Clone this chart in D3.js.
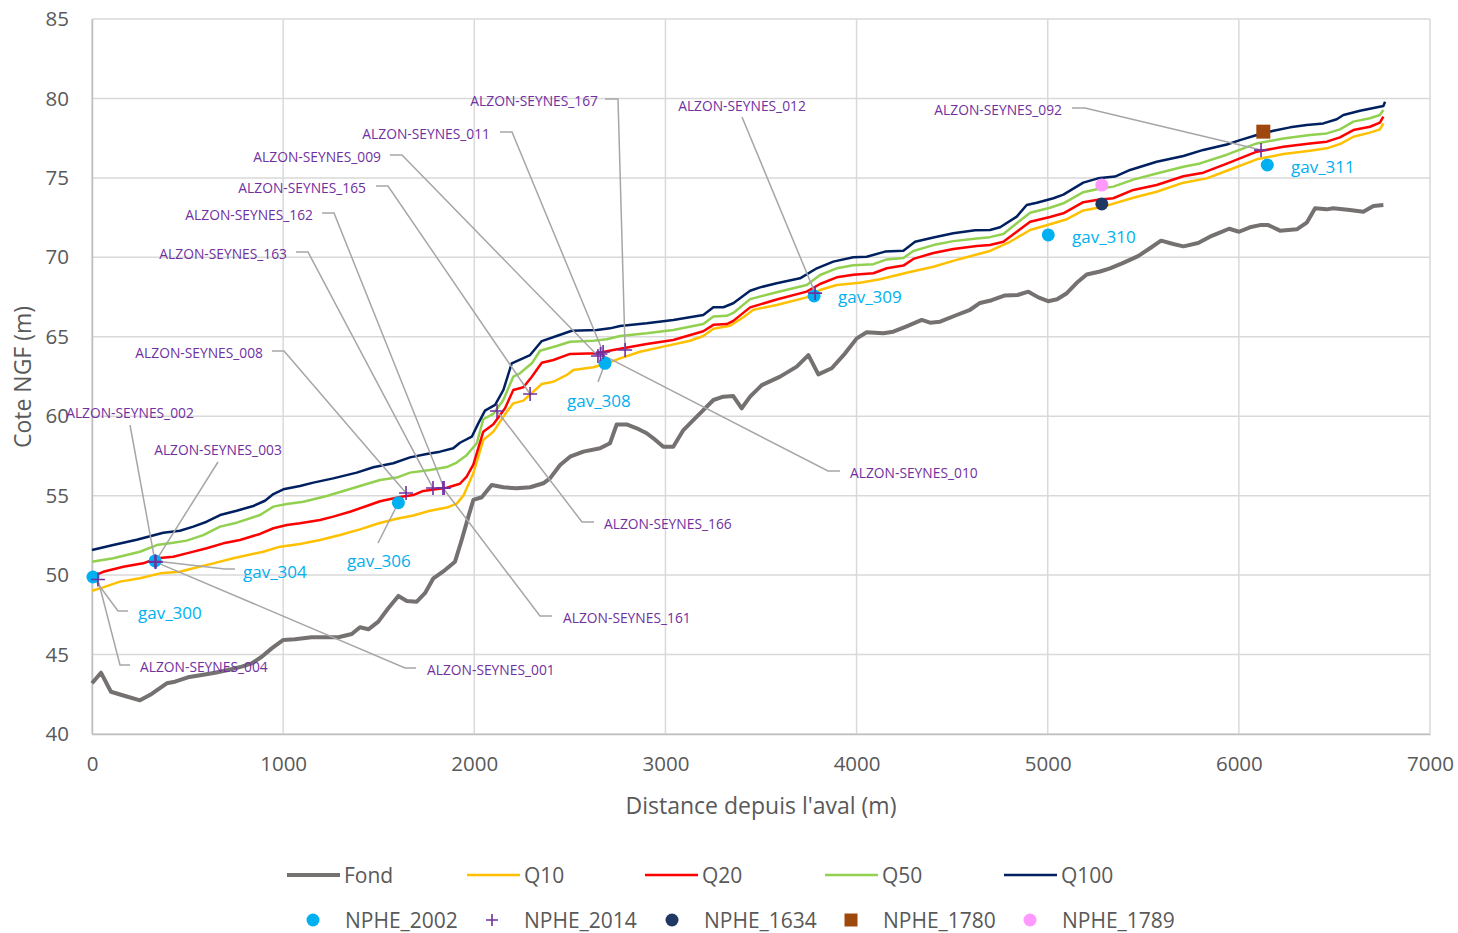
<!DOCTYPE html>
<html>
<head>
<meta charset="utf-8">
<script src="https://cdn.jsdelivr.net/npm/d3@7"></script>
<style>
  html, body { margin: 0; padding: 0; background: #fff; }
  svg { display: block; }
  text { font-family: "Open Sans", "Noto Sans", sans-serif; }
</style>
</head>
<body>
<svg id="chart" width="1458" height="933"></svg>
<script>
// Longitudinal profile: distance from downstream (m) vs. elevation NGF (m)
const fondProfile = [[0,43.19],[47,43.86],[99,42.66],[173,42.39],[251,42.12],[312,42.52],[391,43.19],[434,43.29],[502,43.57],[574,43.71],[644,43.86],[712,44.03],[783,44.24],[836,44.45],[888,44.86],[940,45.39],[1001,45.92],[1062,45.96],[1149,46.09],[1289,46.09],[1359,46.29],[1402,46.72],[1446,46.59],[1498,47.07],[1550,47.91],[1603,48.69],[1647,48.37],[1699,48.33],[1742,48.86],[1786,49.80],[1847,50.32],[1899,50.84],[1934,52.21],[1969,53.68],[1995,54.73],[2039,54.90],[2091,55.67],[2152,55.53],[2222,55.46],[2292,55.53],[2361,55.78],[2396,56.09],[2449,56.93],[2501,57.45],[2571,57.77],[2658,57.98],[2710,58.30],[2745,59.48],[2797,59.48],[2850,59.24],[2902,58.93],[2937,58.61],[2989,58.08],[3041,58.08],[3094,59.13],[3164,59.97],[3251,61.02],[3303,61.23],[3355,61.27],[3399,60.50],[3443,61.23],[3504,61.96],[3600,62.49],[3687,63.12],[3748,63.85],[3800,62.63],[3870,63.02],[3940,63.96],[4001,64.90],[4053,65.28],[4140,65.22],[4192,65.32],[4262,65.66],[4341,66.06],[4384,65.89],[4437,65.95],[4524,66.37],[4594,66.70],[4646,67.13],[4707,67.30],[4777,67.60],[4842,67.63],[4899,67.84],[4951,67.48],[5002,67.24],[5049,67.36],[5100,67.74],[5152,68.40],[5204,68.92],[5274,69.11],[5326,69.31],[5389,69.62],[5473,70.08],[5535,70.57],[5593,71.05],[5657,70.84],[5710,70.69],[5787,70.90],[5849,71.30],[5884,71.47],[5949,71.80],[6001,71.61],[6058,71.89],[6111,72.03],[6154,72.03],[6215,71.68],[6303,71.76],[6355,72.18],[6399,73.09],[6460,73.02],[6494,73.09],[6581,72.98],[6651,72.87],[6704,73.23],[6756,73.29]];

const q10Profile = [[0,49.02],[59,49.23],[146,49.59],[251,49.80],[356,50.11],[460,50.21],[530,50.43],[635,50.74],[739,51.06],[896,51.47],[984,51.79],[1088,51.96],[1193,52.21],[1298,52.52],[1402,52.88],[1496,53.25],[1594,53.55],[1681,53.75],[1768,54.05],[1856,54.25],[1908,54.50],[1943,55.00],[1995,56.41],[2047,58.50],[2100,59.03],[2170,60.28],[2204,60.81],[2257,60.98],[2353,62.03],[2414,62.17],[2484,62.60],[2518,62.91],[2623,63.08],[2693,63.33],[2763,63.64],[2867,64.06],[2989,64.38],[3129,64.75],[3198,65.05],[3251,65.50],[3338,65.70],[3408,66.23],[3460,66.70],[3582,67.00],[3739,67.48],[3809,67.94],[3896,68.26],[4018,68.40],[4123,68.62],[4262,69.03],[4402,69.41],[4541,69.90],[4698,70.40],[4803,70.98],[4908,71.72],[5012,72.08],[5100,72.40],[5186,72.95],[5291,73.19],[5448,73.75],[5570,74.13],[5710,74.70],[5832,74.97],[5937,75.45],[6094,76.17],[6233,76.50],[6372,76.71],[6460,76.86],[6529,77.13],[6599,77.59],[6686,77.85],[6738,78.05],[6756,78.43]];

const q20Profile = [[0,49.90],[59,50.21],[164,50.53],[268,50.74],[339,51.06],[425,51.16],[495,51.37],[600,51.69],[687,52.00],[774,52.21],[879,52.59],[949,52.95],[1019,53.15],[1088,53.26],[1193,53.47],[1262,53.68],[1350,53.99],[1437,54.35],[1507,54.65],[1611,54.92],[1681,55.04],[1733,55.30],[1856,55.50],[1925,55.75],[1960,56.20],[1995,56.95],[2047,59.03],[2100,59.50],[2161,60.50],[2204,61.65],[2257,61.82],[2301,62.49],[2353,63.37],[2414,63.54],[2501,63.92],[2641,63.96],[2727,64.17],[2902,64.55],[3041,64.80],[3198,65.35],[3251,65.75],[3321,65.80],[3355,66.00],[3443,66.85],[3582,67.35],[3739,67.84],[3809,68.32],[3896,68.74],[3983,68.90],[4088,69.00],[4158,69.31],[4245,69.48],[4297,69.90],[4402,70.27],[4506,70.53],[4629,70.71],[4698,70.78],[4768,70.98],[4838,71.61],[4908,72.24],[5012,72.54],[5082,72.77],[5186,73.47],[5263,73.62],[5343,73.72],[5448,74.24],[5570,74.55],[5710,75.10],[5814,75.33],[5937,75.90],[6094,76.65],[6233,76.96],[6372,77.17],[6460,77.28],[6529,77.55],[6599,78.01],[6686,78.22],[6738,78.48],[6756,78.85]];

const q50Profile = [[0,50.84],[111,51.06],[251,51.47],[339,51.89],[425,52.04],[495,52.17],[582,52.52],[670,53.05],[757,53.30],[879,53.78],[949,54.31],[1019,54.48],[1106,54.62],[1228,54.98],[1333,55.36],[1419,55.67],[1507,55.99],[1594,56.14],[1664,56.45],[1768,56.62],[1856,56.80],[1908,57.08],[1960,57.55],[2013,58.30],[2047,59.81],[2100,60.15],[2152,61.02],[2204,62.49],[2239,62.70],[2301,63.33],[2344,64.12],[2431,64.42],[2501,64.69],[2623,64.75],[2693,64.84],[2763,65.05],[2902,65.22],[3041,65.43],[3198,65.80],[3251,66.27],[3321,66.32],[3355,66.50],[3443,67.37],[3582,67.80],[3739,68.26],[3809,68.89],[3896,69.31],[3983,69.50],[4088,69.57],[4158,69.87],[4245,69.96],[4297,70.40],[4402,70.77],[4506,71.02],[4629,71.19],[4698,71.27],[4768,71.47],[4838,72.14],[4908,72.81],[5012,73.12],[5082,73.40],[5186,74.10],[5263,74.30],[5343,74.45],[5448,74.89],[5570,75.28],[5710,75.70],[5797,75.91],[5937,76.46],[6094,77.17],[6233,77.48],[6372,77.70],[6460,77.80],[6529,78.05],[6599,78.54],[6686,78.75],[6738,78.96],[6756,79.27]];

const q100Profile = [[0,51.58],[111,51.89],[234,52.23],[373,52.67],[460,52.79],[530,53.05],[600,53.36],[670,53.78],[757,54.05],[844,54.35],[905,54.68],[949,55.10],[1001,55.40],[1088,55.61],[1158,55.82],[1262,56.09],[1385,56.45],[1472,56.79],[1576,57.04],[1664,57.41],[1751,57.62],[1821,57.77],[1890,57.98],[1925,58.33],[1987,58.71],[2021,59.55],[2056,60.35],[2109,60.71],[2152,61.65],[2196,63.33],[2292,63.85],[2353,64.73],[2431,65.05],[2510,65.38],[2641,65.43],[2710,65.53],[2763,65.68],[2902,65.85],[3041,66.06],[3198,66.37],[3251,66.86],[3303,66.86],[3355,67.11],[3443,67.90],[3495,68.11],[3582,68.37],[3704,68.68],[3792,69.31],[3878,69.73],[3983,70.00],[4053,70.04],[4149,70.36],[4245,70.42],[4306,70.98],[4402,71.25],[4506,71.51],[4620,71.70],[4698,71.72],[4751,71.89],[4838,72.56],[4890,73.29],[4943,73.44],[5030,73.72],[5082,73.95],[5186,74.70],[5263,74.97],[5352,75.08],[5431,75.50],[5570,76.02],[5710,76.38],[5814,76.76],[5937,77.10],[6006,77.38],[6094,77.70],[6181,77.97],[6268,78.18],[6355,78.33],[6442,78.43],[6512,78.69],[6547,78.96],[6634,79.23],[6756,79.52],[6765,79.79]];

// Surveyed flood marks (PHE)
const nphe2002 = [
  { id: "gav_300", d: 5, z: 49.88 },
  { id: "gav_304", d: 330, z: 50.89 },
  { id: "gav_306", d: 1603, z: 54.56 },
  { id: "gav_308", d: 2684, z: 63.33 },
  { id: "gav_309", d: 3778, z: 67.57 },
  { id: "gav_310", d: 5003, z: 71.41 },
  { id: "gav_311", d: 6149, z: 75.81 }
];
const nphe2014 = [
  { id: "ALZON-SEYNES_004", d: 31, z: 49.72 },
  { id: "ALZON-SEYNES_002", d: 330, z: 50.84 },
  { id: "ALZON-SEYNES_003", d: 332, z: 50.86 },
  { id: "ALZON-SEYNES_001", d: 334, z: 50.82 },
  { id: "ALZON-SEYNES_008", d: 1643, z: 55.17 },
  { id: "ALZON-SEYNES_163", d: 1784, z: 55.48 },
  { id: "ALZON-SEYNES_162", d: 1842, z: 55.48 },
  { id: "ALZON-SEYNES_161", d: 1836, z: 55.48 },
  { id: "ALZON-SEYNES_166", d: 2119, z: 60.33 },
  { id: "ALZON-SEYNES_165", d: 2292, z: 61.40 },
  { id: "ALZON-SEYNES_009", d: 2647, z: 63.79 },
  { id: "ALZON-SEYNES_010", d: 2660, z: 63.92 },
  { id: "ALZON-SEYNES_011", d: 2674, z: 64.04 },
  { id: "ALZON-SEYNES_167", d: 2789, z: 64.17 },
  { id: "ALZON-SEYNES_012", d: 3783, z: 67.75 },
  { id: "ALZON-SEYNES_092", d: 6116, z: 76.75 }
];
const nphe1634 = [{ d: 5283, z: 73.36 }];
const nphe1780 = [{ d: 6128, z: 77.91 }];
const nphe1789 = [{ d: 5283, z: 74.55 }];

// Axis ticks
const xTicks = [0, 1000, 2000, 3000, 4000, 5000, 6000, 7000];
const yTicks = [40, 45, 50, 55, 60, 65, 70, 75, 80, 85];

// Label placement (pixel layout): text anchor point, side, and leader elbow
const alzonLayout = {
  "ALZON-SEYNES_167": { x: 598, y: 100, anchor: "end",   leader: [[605, 99], [618, 99]] },
  "ALZON-SEYNES_012": { x: 742, y: 105, anchor: "middle", leader: [[742, 117]] },
  "ALZON-SEYNES_092": { x: 1062, y: 109, anchor: "end",  leader: [[1072, 108], [1085, 108]] },
  "ALZON-SEYNES_011": { x: 490, y: 133, anchor: "end",   leader: [[500, 132], [512, 132]] },
  "ALZON-SEYNES_009": { x: 381, y: 156, anchor: "end",   leader: [[390, 155], [402, 155]] },
  "ALZON-SEYNES_165": { x: 366, y: 187, anchor: "end",   leader: [[376, 186], [388, 186]] },
  "ALZON-SEYNES_162": { x: 313, y: 214, anchor: "end",   leader: [[322, 213], [334, 213]] },
  "ALZON-SEYNES_163": { x: 287, y: 253, anchor: "end",   leader: [[296, 252], [308, 252]] },
  "ALZON-SEYNES_008": { x: 263, y: 352, anchor: "end",   leader: [[272, 351], [284, 351]] },
  "ALZON-SEYNES_002": { x: 130, y: 412, anchor: "middle", leader: [[130, 425]] },
  "ALZON-SEYNES_003": { x: 218, y: 449, anchor: "middle", leader: [[218, 462]] },
  "ALZON-SEYNES_004": { x: 140, y: 666, anchor: "start", leader: [[130, 665], [120, 665]] },
  "ALZON-SEYNES_001": { x: 427, y: 669, anchor: "start", leader: [[416, 668], [405, 668]] },
  "ALZON-SEYNES_161": { x: 563, y: 617, anchor: "start", leader: [[552, 616], [540, 616]] },
  "ALZON-SEYNES_166": { x: 604, y: 523, anchor: "start", leader: [[594, 522], [582, 522]] },
  "ALZON-SEYNES_010": { x: 850, y: 472, anchor: "start", leader: [[840, 471], [828, 471]] }
};
const gavLayout = {
  "gav_300": { x: 138, y: 612, leader: [[128, 611], [118, 611]] },
  "gav_304": { x: 243, y: 571, leader: [[235, 569], [225, 569]] },
  "gav_306": { x: 347, y: 560, leader: [[378, 543]] },
  "gav_308": { x: 567, y: 400, leader: [[598, 382]] },
  "gav_309": { x: 838, y: 296, leader: null },
  "gav_310": { x: 1072, y: 236, leader: null },
  "gav_311": { x: 1291, y: 166, leader: null }
};

const svg = d3.select("#chart");
const plot = { left: 92, right: 1430, top: 19, bottom: 734 };

const x = d3.scaleLinear().domain([0, 7000]).range([plot.left, plot.right]);
const y = d3.scaleLinear().domain([40, 85]).range([plot.bottom, plot.top]);

const gridColor = "#d9d9d9";
const textGray = "#595959";

// Gridlines
svg.append("g")
  .selectAll("line.h")
  .data(yTicks)
  .join("line")
  .attr("x1", plot.left).attr("x2", plot.right)
  .attr("y1", d => y(d)).attr("y2", d => y(d))
  .attr("stroke", gridColor).attr("stroke-width", 1.5);
svg.append("g")
  .selectAll("line.v")
  .data(xTicks)
  .join("line")
  .attr("x1", d => x(d)).attr("x2", d => x(d))
  .attr("y1", plot.top).attr("y2", plot.bottom)
  .attr("stroke", gridColor).attr("stroke-width", 1.5);

// Axes
const xAxis = svg.append("g")
  .attr("transform", `translate(0,${plot.bottom})`)
  .call(d3.axisBottom(x).tickValues(xTicks).tickFormat(d3.format("d")).tickSize(0).tickPadding(22));
const yAxis = svg.append("g")
  .attr("transform", `translate(${plot.left},0)`)
  .call(d3.axisLeft(y).tickValues(yTicks).tickFormat(d3.format("d")).tickSize(0).tickPadding(23));
[xAxis, yAxis].forEach(g => {
  g.select(".domain").attr("stroke", "#bfbfbf").attr("stroke-width", 1.5);
  g.selectAll("text")
    .attr("font-family", "'Open Sans', sans-serif")
    .attr("font-size", 20.5)
    .attr("fill", textGray);
});

// Axis titles
svg.append("text")
  .attr("x", 761)
  .attr("y", 805)
  .attr("text-anchor", "middle")
  .attr("dominant-baseline", "central")
  .attr("font-size", 23)
  .attr("fill", textGray)
  .text("Distance depuis l'aval (m)");
svg.append("text")
  .attr("transform", `translate(22,377) rotate(-90)`)
  .attr("text-anchor", "middle")
  .attr("dominant-baseline", "central")
  .attr("font-size", 23)
  .attr("fill", textGray)
  .text("Cote NGF (m)");

// Profile lines
const lineGen = d3.line().x(d => x(d[0])).y(d => y(d[1]));
const lineSeries = [
  { name: "Fond", data: fondProfile, color: "#767171", width: 4 },
  { name: "Q10", data: q10Profile, color: "#FFC000", width: 2.5 },
  { name: "Q20", data: q20Profile, color: "#FF0000", width: 2.5 },
  { name: "Q50", data: q50Profile, color: "#92D050", width: 2.5 },
  { name: "Q100", data: q100Profile, color: "#002060", width: 2.5 }
];
svg.append("g")
  .selectAll("path")
  .data(lineSeries)
  .join("path")
  .attr("d", s => lineGen(s.data))
  .attr("fill", "none")
  .attr("stroke", s => s.color)
  .attr("stroke-width", s => s.width)
  .attr("stroke-linejoin", "round");

// Leader lines
const leaderColor = "#a6a6a6";
const leaders = svg.append("g").attr("fill", "none").attr("stroke", leaderColor).attr("stroke-width", 1.5);
nphe2014.forEach(p => {
  const l = alzonLayout[p.id];
  const pts = l.leader.concat([[x(p.d), y(p.z)]]);
  leaders.append("path").attr("d", d3.line()(pts));
});
nphe2002.forEach(p => {
  const l = gavLayout[p.id];
  if (!l.leader) return;
  const pts = l.leader.concat([[x(p.d), y(p.z)]]);
  leaders.append("path").attr("d", d3.line()(pts));
});

// Markers
const blue2002 = "#00B0F0";
const purple2014 = "#7030A0";
const navy1634 = "#203864";
const brown1780 = "#9E480E";
const pink1789 = "#FF99FF";
const plusPath = "M-7,0H7M0,-7V7";

svg.append("g").selectAll("circle")
  .data(nphe2002).join("circle")
  .attr("cx", d => x(d.d)).attr("cy", d => y(d.z)).attr("r", 6.5)
  .attr("fill", blue2002);
svg.append("g").selectAll("circle")
  .data(nphe1634).join("circle")
  .attr("cx", d => x(d.d)).attr("cy", d => y(d.z)).attr("r", 6.5)
  .attr("fill", navy1634);
svg.append("g").selectAll("circle")
  .data(nphe1789).join("circle")
  .attr("cx", d => x(d.d)).attr("cy", d => y(d.z)).attr("r", 6.5)
  .attr("fill", pink1789);
svg.append("g").selectAll("rect")
  .data(nphe1780).join("rect")
  .attr("x", d => x(d.d) - 7).attr("y", d => y(d.z) - 7)
  .attr("width", 14).attr("height", 14)
  .attr("fill", brown1780);
svg.append("g").selectAll("path")
  .data(nphe2014).join("path")
  .attr("transform", d => `translate(${x(d.d)},${y(d.z)})`)
  .attr("d", plusPath)
  .attr("stroke", purple2014).attr("stroke-width", 1.6).attr("fill", "none");

// Mark labels
svg.append("g").selectAll("text")
  .data(nphe2014).join("text")
  .attr("x", d => alzonLayout[d.id].x)
  .attr("y", d => alzonLayout[d.id].y)
  .attr("text-anchor", d => alzonLayout[d.id].anchor)
  .attr("dominant-baseline", "central")
  .attr("font-size", 13.8)
  .attr("fill", purple2014)
  .text(d => d.id);
svg.append("g").selectAll("text")
  .data(nphe2002).join("text")
  .attr("x", d => gavLayout[d.id].x)
  .attr("y", d => gavLayout[d.id].y)
  .attr("dominant-baseline", "central")
  .attr("font-size", 17)
  .attr("fill", blue2002)
  .text(d => d.id);

// Legend
const legend = svg.append("g").attr("font-size", 21).attr("fill", textGray);
const lineLegend = [
  { name: "Fond", color: "#767171", width: 4, x: 287 },
  { name: "Q10", color: "#FFC000", width: 2.5, x: 467 },
  { name: "Q20", color: "#FF0000", width: 2.5, x: 645 },
  { name: "Q50", color: "#92D050", width: 2.5, x: 825 },
  { name: "Q100", color: "#002060", width: 2.5, x: 1004 }
];
lineLegend.forEach(l => {
  legend.append("line")
    .attr("x1", l.x).attr("x2", l.x + 53)
    .attr("y1", 875).attr("y2", 875)
    .attr("stroke", l.color).attr("stroke-width", l.width);
  legend.append("text")
    .attr("x", l.x + 57).attr("y", 875)
    .attr("dominant-baseline", "central")
    .attr("fill", textGray)
    .text(l.name);
});
const markLegend = [
  { name: "NPHE_2002", kind: "circle", color: blue2002, x: 313 },
  { name: "NPHE_2014", kind: "plus", color: purple2014, x: 492 },
  { name: "NPHE_1634", kind: "circle", color: navy1634, x: 672 },
  { name: "NPHE_1780", kind: "square", color: brown1780, x: 851 },
  { name: "NPHE_1789", kind: "circle", color: pink1789, x: 1030 }
];
markLegend.forEach(m => {
  const cy = 920;
  if (m.kind === "circle") {
    legend.append("circle").attr("cx", m.x).attr("cy", cy).attr("r", 6.5).attr("fill", m.color);
  } else if (m.kind === "square") {
    legend.append("rect").attr("x", m.x - 6.5).attr("y", cy - 6.5).attr("width", 13).attr("height", 13).attr("fill", m.color);
  } else {
    legend.append("path").attr("transform", `translate(${m.x},${cy})`)
      .attr("d", "M-6,0H6M0,-6V6").attr("stroke", m.color).attr("stroke-width", 1.6);
  }
  legend.append("text")
    .attr("x", m.x + 32).attr("y", cy)
    .attr("dominant-baseline", "central")
    .attr("fill", textGray)
    .text(m.name);
});
</script>
</body>
</html>
